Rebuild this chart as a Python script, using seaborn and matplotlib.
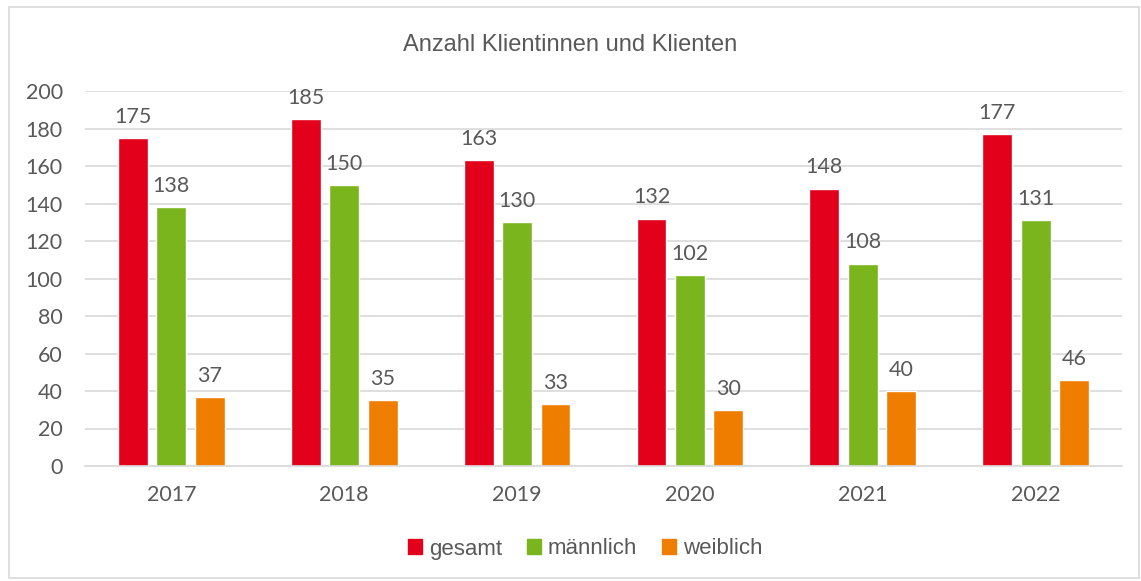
import pandas as pd
import matplotlib.pyplot as plt
import seaborn as sns
from matplotlib.patches import Rectangle

# Data
years = ['2017', '2018', '2019', '2020', '2021', '2022']
gesamt = [175, 185, 163, 132, 148, 177]
maennlich = [138, 150, 130, 102, 108, 131]
weiblich = [37, 35, 33, 30, 40, 46]
series_names = ['gesamt', 'männlich', 'weiblich']
colors = ['#E2001A', '#7AB51D', '#EF7D00']

df = pd.DataFrame({'Jahr': years, 'gesamt': gesamt, 'männlich': maennlich, 'weiblich': weiblich})
plot_df = df.melt(id_vars='Jahr', var_name='Gruppe', value_name='Anzahl')

sns.set_style('white')
plt.rcParams['font.family'] = ['Lato', 'DejaVu Sans']
text_color = '#595959'
grid_color = '#D9D9D9'

fig = plt.figure(figsize=(11.41, 5.81), dpi=100)
ax = fig.add_axes([85 / 1141, 1 - 466 / 581, (1122 - 85) / 1141, (466 - 91) / 581])

sns.barplot(data=plot_df, x='Jahr', y='Anzahl', hue='Gruppe', order=years,
            hue_order=series_names, palette=colors, width=0.667, gap=0.22,
            saturation=1, ax=ax, legend=False)

ax.set_ylim(0, 200)
ax.set_xlim(-0.5, 5.5)
ax.set_yticks(range(0, 201, 20))
ax.yaxis.grid(True, color=grid_color, linewidth=1.2)
ax.set_axisbelow(True)
for side in ['left', 'right', 'top']:
    ax.spines[side].set_visible(False)
ax.spines['bottom'].set_color(grid_color)
ax.spines['bottom'].set_linewidth(1.2)
ax.tick_params(axis='both', length=0, labelsize=15.5, colors=text_color)
ax.tick_params(axis='y', pad=16)
ax.tick_params(axis='x', pad=14)
ax.set_xlabel('')
ax.set_ylabel('')

for container in ax.containers:
    ax.bar_label(container, padding=8, fontsize=15.5, color=text_color)

fig.text(0.5, 1 - 45 / 581, 'Anzahl Klientinnen und Klienten', ha='center', va='center',
         fontsize=17, color=text_color, family=['Liberation Sans', 'DejaVu Sans'])

handles = [Rectangle((0, 0), 1, 1, color=c) for c in colors]
fig.legend(handles, series_names, loc='center', bbox_to_anchor=(585 / 1141, 1 - 549 / 581),
           ncol=3, frameon=False, handlelength=0.65, handleheight=0.65, handletextpad=0.3,
           columnspacing=1.1, prop={'family': ['Liberation Sans', 'DejaVu Sans'], 'size': 16},
           labelcolor=text_color)

fig.patches.append(Rectangle((9 / 1141, 3 / 581), 1130 / 1141, 571 / 581, transform=fig.transFigure,
                             fill=False, edgecolor=grid_color, linewidth=1.2))

plt.savefig('out.png', dpi=100)
